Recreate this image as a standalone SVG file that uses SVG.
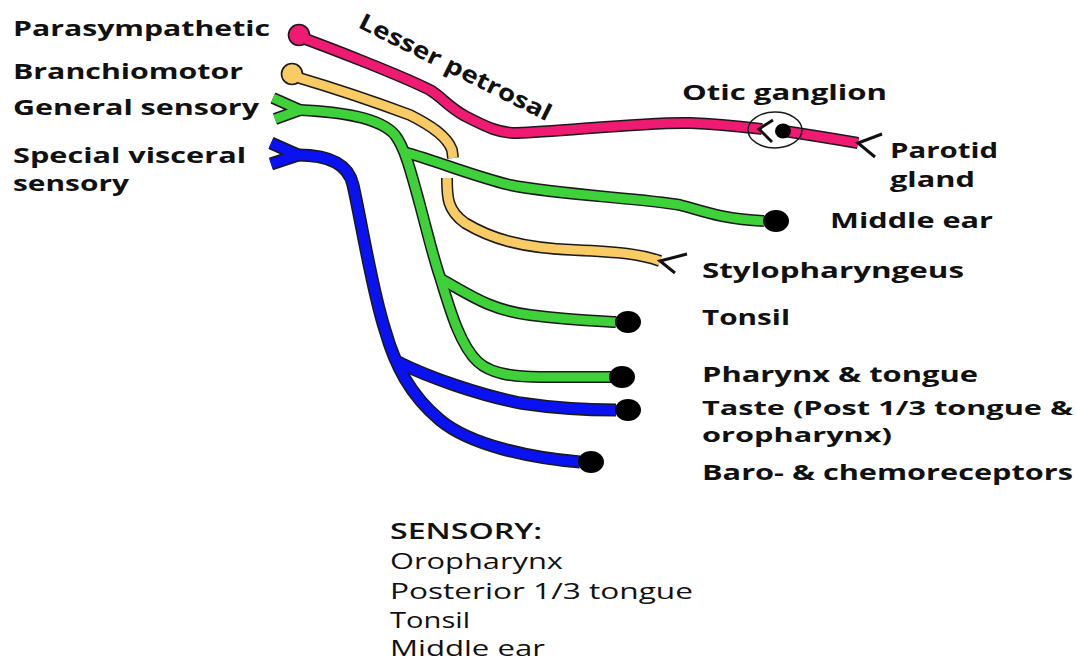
<svg xmlns="http://www.w3.org/2000/svg" width="1076" height="663" viewBox="0 0 1076 663">
<style>
.lbl{font-family:"Open Sans","Liberation Sans",sans-serif;font-weight:700;font-size:22px;fill:#111;}
.reg{font-family:"Open Sans","Liberation Sans",sans-serif;font-weight:400;font-size:21px;fill:#111;}
.semi{font-family:"Open Sans","Liberation Sans",sans-serif;font-weight:600;font-size:21px;fill:#111;}
.ol{fill:none;stroke:#1a1a1a;stroke-width:12;stroke-linecap:butt;stroke-linejoin:round;}
.olb{fill:none;stroke:#1a1a1a;stroke-width:13;stroke-linecap:butt;stroke-linejoin:round;}
.pk{fill:none;stroke:#ef1a72;stroke-width:9;stroke-linecap:butt;stroke-linejoin:round;}
.yl{fill:none;stroke:#f9cb64;stroke-width:9;stroke-linecap:butt;stroke-linejoin:round;}
.gr{fill:none;stroke:#3fd13a;stroke-width:9;stroke-linecap:butt;stroke-linejoin:round;}
.bl{fill:none;stroke:#0a12f2;stroke-width:10;stroke-linecap:butt;stroke-linejoin:round;}
.tip{fill:none;stroke:#111;stroke-width:3;stroke-linecap:butt;}
.dot{fill:#000;}
</style>
<rect width="1076" height="663" fill="#fff"/>
<defs>
<path id="pk1" d="M300,37 C330,48 400,75 430,90 C442,97 447,106 465,116 C485,126 497,133 517,133 C560,132 640,122 690,123 C720,124 745,127 762,129"/>
<path id="pk2" d="M784,131 C810,135 835,139 858,143"/>
<path id="yl1" d="M293,76 C320,84 370,100 410,115 C430,125 447,136 452,150 L453,158"/>
<path id="yl2" d="M447,178 C447,197 447,210 465,223 C490,238 520,248 575,250 C620,252 640,254 660,261"/>
<path id="grA" d="M273,98 L300,110 L275,119"/>
<path id="grM" d="M300,110 C340,112 380,117 395,135 C405,148 411,172 420,205 C428,235 434,260 440,277 C450,310 460,345 478,362 C490,373 510,377 540,377 L612,377"/>
<path id="grE" d="M404,152 C440,162 470,175 510,185 C560,195 640,198 680,205 C700,210 720,219 764,221"/>
<path id="grT" d="M441,279 C470,295 490,310 530,315 C570,320 600,321 616,322"/>
<path id="blA" d="M271,143 L298,155 L271,164"/>
<path id="blM" d="M298,155 C325,155 348,162 353,185 C362,225 372,290 385,330 C395,365 410,395 440,420 C470,445 530,458 580,462"/>
<path id="blT" d="M398,362 C430,378 480,395 520,403 C560,409 590,410 616,410"/>
</defs>

<g id="connectors">
  <g id="parasympathetic-fibre">
    <use href="#pk1" class="ol"/>
    <use href="#pk2" class="ol"/>
    <circle cx="299" cy="35" r="10.5" fill="#ef1a72" stroke="#1a1a1a" stroke-width="1.6"/>
    <use href="#pk1" class="pk"/>
    <use href="#pk2" class="pk"/>
    <path class="tip" d="M882,134 L858,143 L875,157"/>
  </g>
  <g id="branchiomotor-fibre">
    <use href="#yl1" class="ol"/>
    <use href="#yl2" class="ol"/>
    <circle cx="292" cy="74" r="10.5" fill="#f9cb64" stroke="#1a1a1a" stroke-width="1.6"/>
    <use href="#yl1" class="yl"/>
    <use href="#yl2" class="yl"/>
    <path class="tip" d="M687,254 L660,261 L675,273"/>
  </g>
  <g id="general-sensory-fibre">
    <use href="#grA" class="ol"/>
    <use href="#grM" class="ol"/>
    <use href="#grE" class="ol"/>
    <use href="#grT" class="ol"/>
    <use href="#grA" class="gr"/>
    <use href="#grM" class="gr"/>
    <use href="#grE" class="gr"/>
    <use href="#grT" class="gr"/>
  </g>
  <g id="special-visceral-fibre">
    <use href="#blA" class="olb"/>
    <use href="#blM" class="olb"/>
    <use href="#blT" class="olb"/>
    <use href="#blA" class="bl"/>
    <use href="#blM" class="bl"/>
    <use href="#blT" class="bl"/>
  </g>
</g>

<g id="otic-ganglion">
  <ellipse cx="775" cy="130" rx="27" ry="18" fill="none" stroke="#1a1a1a" stroke-width="1.5"/>
  <path class="tip" d="M773,120 L759,129 L772,142"/>
  <ellipse cx="783" cy="131" rx="8" ry="7.5" class="dot"/>
  <text class="lbl" x="682" y="100" textLength="205" lengthAdjust="spacingAndGlyphs">Otic ganglion</text>
</g>

<g id="endings">
  <ellipse cx="776" cy="221" rx="13" ry="11" class="dot"/>
  <ellipse cx="628" cy="322" rx="13" ry="11" class="dot"/>
  <ellipse cx="622" cy="377" rx="13" ry="11" class="dot"/>
  <ellipse cx="628" cy="410" rx="13" ry="11" class="dot"/>
  <ellipse cx="591" cy="462" rx="13" ry="11" class="dot"/>
</g>

<g id="left-labels">
  <text class="lbl" x="13" y="36" textLength="257" lengthAdjust="spacingAndGlyphs">Parasympathetic</text>
  <text class="lbl" x="13" y="79" textLength="230" lengthAdjust="spacingAndGlyphs">Branchiomotor</text>
  <text class="lbl" x="13" y="115" textLength="246" lengthAdjust="spacingAndGlyphs">General sensory</text>
  <text class="lbl" x="13" y="163" textLength="233" lengthAdjust="spacingAndGlyphs">Special visceral</text>
  <text class="lbl" x="13" y="191" textLength="116" lengthAdjust="spacingAndGlyphs">sensory</text>
</g>

<g id="lesser-petrosal">
  <text class="lbl" style="font-size:23px" transform="translate(357,27) rotate(26.5)" x="0" y="0" textLength="212" lengthAdjust="spacingAndGlyphs">Lesser petrosal</text>
</g>

<g id="right-labels">
  <text class="lbl" x="890" y="158" textLength="108" lengthAdjust="spacingAndGlyphs">Parotid</text>
  <text class="lbl" x="890" y="187" textLength="85" lengthAdjust="spacingAndGlyphs">gland</text>
  <text class="lbl" x="830" y="228" textLength="163" lengthAdjust="spacingAndGlyphs">Middle ear</text>
  <text class="lbl" x="702" y="278" textLength="262" lengthAdjust="spacingAndGlyphs">Stylopharyngeus</text>
  <text class="lbl" x="702" y="325" textLength="88" lengthAdjust="spacingAndGlyphs">Tonsil</text>
  <text class="lbl" x="702" y="382" textLength="276" lengthAdjust="spacingAndGlyphs">Pharynx &amp; tongue</text>
  <text class="lbl" style="font-size:19px" x="702" y="415" textLength="371" lengthAdjust="spacingAndGlyphs">Taste (Post 1/3 tongue &amp;</text>
  <text class="lbl" style="font-size:19px" x="702" y="442" textLength="190" lengthAdjust="spacingAndGlyphs">oropharynx)</text>
  <text class="lbl" x="702" y="480" textLength="371" lengthAdjust="spacingAndGlyphs">Baro- &amp; chemoreceptors</text>
</g>

<g id="sensory-list">
  <text class="semi" x="390" y="539" textLength="152" lengthAdjust="spacingAndGlyphs">SENSORY:</text>
  <text class="reg" x="390" y="569" textLength="173" lengthAdjust="spacingAndGlyphs">Oropharynx</text>
  <text class="reg" x="390" y="599" textLength="303" lengthAdjust="spacingAndGlyphs">Posterior 1/3 tongue</text>
  <text class="reg" x="390" y="628" textLength="80" lengthAdjust="spacingAndGlyphs">Tonsil</text>
  <text class="reg" x="390" y="656" textLength="155" lengthAdjust="spacingAndGlyphs">Middle ear</text>
</g>
</svg>
